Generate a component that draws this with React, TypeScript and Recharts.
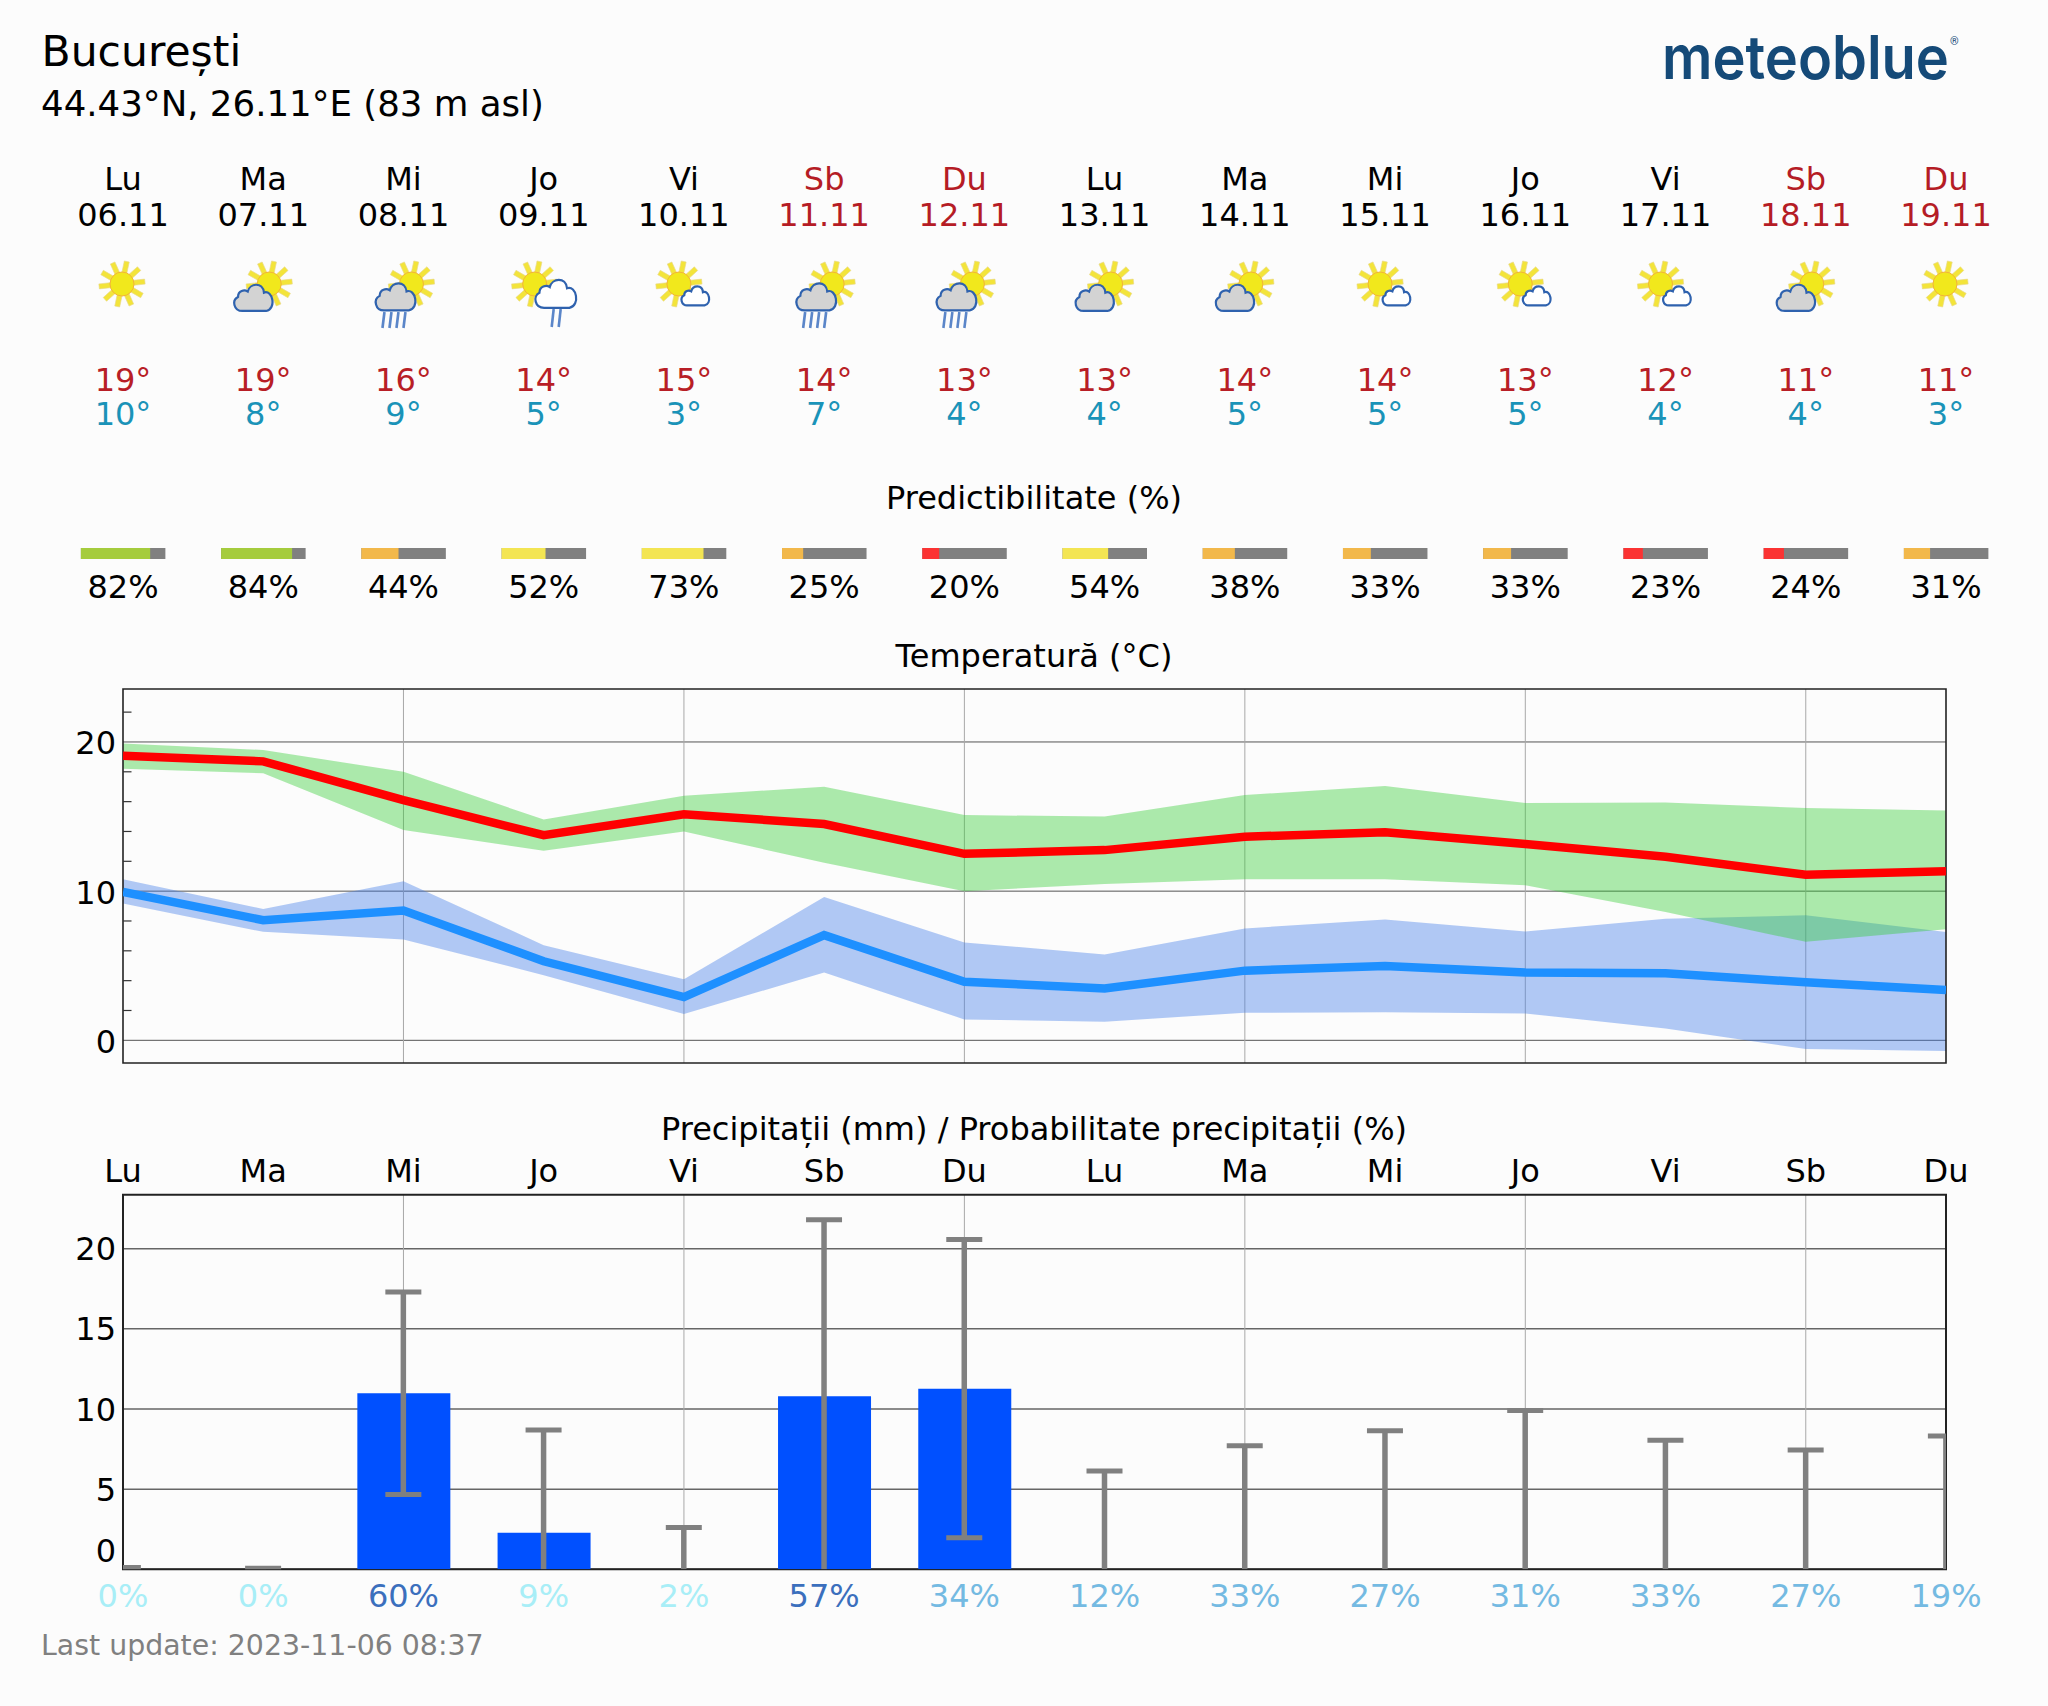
import { Area, Bar, CartesianGrid, ComposedChart, Line, ReferenceArea, XAxis, YAxis } from "recharts";

const FONT = "'DejaVu Sans', sans-serif";

const dayNames = ["Lu", "Ma", "Mi", "Jo", "Vi", "Sb", "Du", "Lu", "Ma", "Mi", "Jo", "Vi", "Sb", "Du"];
const dates = ["06.11", "07.11", "08.11", "09.11", "10.11", "11.11", "12.11", "13.11", "14.11", "15.11", "16.11", "17.11", "18.11", "19.11"];
const icons = ["sun", "cloudy", "rain", "showers", "fair", "rain", "rain", "cloudy", "cloudy", "fair", "fair", "fair", "cloudy", "sun"];
const maxLabels = [19, 19, 16, 14, 15, 14, 13, 13, 14, 14, 13, 12, 11, 11];
const minLabels = [10, 8, 9, 5, 3, 7, 4, 4, 5, 5, 5, 4, 4, 3];
const predictability = [82, 84, 44, 52, 73, 25, 20, 54, 38, 33, 33, 23, 24, 31];

const tempHigh = [19.07, 18.7, 16.1, 13.75, 15.15, 14.5, 12.5, 12.75, 13.65, 13.94, 13.16, 12.3, 11.1, 11.33];
const tempHighUpper = [19.9, 19.46, 18.0, 14.8, 16.4, 17.0, 15.1, 15.0, 16.44, 17.05, 15.9, 15.95, 15.57, 15.4];
const tempHighLower = [18.2, 17.9, 14.1, 12.7, 14.0, 11.9, 10.0, 10.48, 10.8, 10.8, 10.4, 8.6, 6.6, 7.44];
const tempLow = [9.95, 8.05, 8.7, 5.3, 2.9, 7.05, 3.93, 3.48, 4.67, 4.98, 4.55, 4.49, 3.89, 3.37];
const tempLowUpper = [10.8, 8.8, 10.67, 6.38, 4.1, 9.6, 6.56, 5.76, 7.5, 8.1, 7.3, 8.15, 8.38, 7.26];
const tempLowLower = [9.17, 7.27, 6.76, 4.37, 1.76, 4.55, 1.4, 1.25, 1.85, 1.88, 1.8, 0.8, -0.58, -0.71];

const rain = [0, 0, 10.98, 2.28, 0, 10.79, 11.27, 0, 0, 0, 0, 0, 0, 0];
const rainUpper = [0.12, 0.07, 17.3, 8.69, 2.6, 21.8, 20.58, 6.13, 7.71, 8.65, 9.9, 8.05, 7.44, 8.31];
const rainLower = [0, 0, 4.67, 0, 0, 0, 1.97, 0, 0, 0, 0, 0, 0, 0];
const rainProbability = [0, 0, 60, 9, 2, 57, 34, 12, 33, 27, 31, 33, 27, 19];

const dayTicks = dayNames.map((_, i) => i);
const tempTicks = [0, 2, 4, 6, 8, 10, 12, 14, 16, 18, 20, 22];
const tempGrid = [0, 10, 20];
const rainTicks = [0, 5, 10, 15, 20];
const gridDays = [2, 4, 6, 8, 10, 12];

const tempDomain = [-1.52, 23.55];
const rainDomain = [0, 23.37];

const headerData = dayNames.map((day, i) => ({ i, day, predictability: predictability[i] }));
const tempData = dayNames.map((_, i) => ({
  i,
  high: tempHigh[i],
  low: tempLow[i],
  highBand: [tempHighLower[i], tempHighUpper[i]],
  lowBand: [tempLowLower[i], tempLowUpper[i]],
}));
const rainData = dayNames.map((_, i) => ({
  i,
  rain: rain[i],
  range: [rainLower[i], rainUpper[i]],
}));

const LEFT = 123;
const RIGHT = 102;

const predColor = (p: number) => {
  if (p >= 80) return "#a5cc3d";
  if (p >= 50) return "#f3e553";
  if (p >= 25) return "#f2b84b";
  return "#fb3333";
};

const probColor = (p: number) => {
  if (p < 10) return "#a8eef7";
  if (p >= 50) return "#3b6fbd";
  return "#74bae2";
};

const CLOUD = "M-11 12C-19 12-21 2-15-1C-15-7-9-8-6-6C-4-14 8-15 9-5C17-8 21 10 11 12Z";

function Sun({ dx }: { dx: number }) {
  const rays = [0, 36, 72, 108, 144, 180, 216, 252, 288, 324];
  return (
    <g transform={`translate(${dx} 0)`}>
      {rays.map((r) => (
        <rect key={r} x={-2.5} y={-23} width={5} height={13} fill="#f3e43a" stroke="#e8d98a" strokeWidth={0.6} transform={`rotate(${r + 12})`} />
      ))}
      <ellipse rx={12} ry={12} fill="#f1e81c" stroke="#f3b33a" strokeWidth={1} />
    </g>
  );
}

function Cloud({ dx, dy, s, fill }: { dx: number; dy: number; s: number; fill: string }) {
  return <path d={CLOUD} transform={`translate(${dx} ${dy}) scale(${s})`} fill={fill} stroke="#2f62ae" strokeWidth={2.2 / s} />;
}

function Drops({ xs, y1, y2 }: { xs: number[]; y1: number; y2: number }) {
  return (
    <g>
      {xs.map((x) => (
        <line key={x} x1={x + 1} y1={y1} x2={x - 1} y2={y2} stroke="#5b86c9" strokeWidth={2.6} />
      ))}
    </g>
  );
}

function WeatherIcon({ kind, x }: { kind: string; x: number }) {
  return (
    <g transform={`translate(${x} 284)`}>
      {kind === "sun" && <Sun dx={-1} />}
      {kind === "cloudy" && (
        <>
          <Sun dx={6} />
          <Cloud dx={-9} dy={14} s={1.08} fill="#d3d3d3" />
        </>
      )}
      {kind === "rain" && (
        <>
          <Sun dx={8} />
          <Cloud dx={-7} dy={13} s={1.12} fill="#d3d3d3" />
          <Drops xs={[-20, -13, -6, 1]} y1={28} y2={44} />
        </>
      )}
      {kind === "showers" && (
        <>
          <Sun dx={-9} />
          <Cloud dx={13} dy={10} s={1.15} fill="#ffffff" />
          <Drops xs={[9, 16]} y1={25} y2={43} />
        </>
      )}
      {kind === "fair" && (
        <>
          <Sun dx={-5} />
          <Cloud dx={12} dy={12} s={0.78} fill="#ffffff" />
        </>
      )}
    </g>
  );
}

function HeaderTick({ x, payload }: any) {
  const i = payload.value;
  const weekend = dayNames[i] === "Sb" || dayNames[i] === "Du";
  const color = weekend ? "#b51c25" : "#000000";
  return (
    <g fontFamily={FONT} fontSize={32} textAnchor="middle">
      <text x={x} y={190} fill={color}>{dayNames[i]}</text>
      <text x={x} y={226} fill={color}>{dates[i]}</text>
      <WeatherIcon kind={icons[i]} x={x} />
      <text x={x} y={390.5} fill="#b81e26">{maxLabels[i]}°</text>
      <text x={x} y={424.5} fill="#1a93b8">{minLabels[i]}°</text>
      <text x={x} y={598} fill="#000000">{predictability[i]}%</text>
    </g>
  );
}

function PredictabilityBar({ x, width, background, payload }: any) {
  const h = background?.height ?? 11;
  const y = background?.y ?? 548;
  return (
    <g>
      <rect x={x} y={y} width={width} height={h} fill="#808080" />
      <rect x={x} y={y} width={(width * payload.predictability) / 100} height={h} fill={predColor(payload.predictability)} />
    </g>
  );
}

function TempTick({ x, y, payload }: any) {
  const major = payload.value % 10 === 0;
  if (!major) return <line x1={x + 7} x2={x + 15.5} y1={y} y2={y} stroke="#333333" strokeWidth={1.2} />;
  return (
    <text x={x} y={y + 1} dy="0.36em" textAnchor="end" fontFamily={FONT} fontSize={32} fill="#000000">
      {payload.value}
    </text>
  );
}

function RainTick({ x, y, payload }: any) {
  return (
    <text x={x} y={payload.value === 0 ? y - 19 : y} dy="0.36em" textAnchor="end" fontFamily={FONT} fontSize={32} fill="#000000">
      {payload.value}
    </text>
  );
}

function RainDayTick({ x, payload }: any) {
  return (
    <text x={x} y={32} textAnchor="middle" fontFamily={FONT} fontSize={32} fill="#000000">
      {dayNames[payload.value]}
    </text>
  );
}

function RainProbTick({ x, payload }: any) {
  const p = rainProbability[payload.value];
  return (
    <text x={x} y={456.5} textAnchor="middle" fontFamily={FONT} fontSize={32} fill={probColor(p)}>
      {p}%
    </text>
  );
}

function Whisker({ x, y, width, height, payload }: any) {
  const cx = x + width / 2;
  return (
    <g stroke="#808080" strokeWidth={5}>
      <line x1={cx} x2={cx} y1={y} y2={y + height} strokeWidth={5.5} />
      <line x1={x} x2={x + width} y1={y} y2={y} />
      {payload.range[0] > 0 && <line x1={x} x2={x + width} y1={y + height} y2={y + height} />}
    </g>
  );
}

function Label({ children, x, y, size = 32, color = "#000000", anchor = "start" }: any) {
  return (
    <text x={x} y={y} fontFamily={FONT} fontSize={size} fill={color} textAnchor={anchor}>
      {children}
    </text>
  );
}

export default function App() {
  return (
    <div style={{ position: "absolute", left: 0, top: 0, width: 2048, height: 1706, background: "#fcfcfc", overflow: "hidden" }}>
      <svg width={2048} height={1706} style={{ position: "absolute", left: 0, top: 0 }}>
        <Label x={41.5} y={66} size={42.5}>București</Label>
        <Label x={41} y={116} size={35.6}>44.43°N, 26.11°E (83 m asl)</Label>
        <text x={1662} y={78.7} fontFamily="Inter, sans-serif" fontWeight={600} fontSize={60} fill="#154a78" textLength={287} lengthAdjust="spacingAndGlyphs">
          meteoblue
        </text>
        <text x={1950} y={45} fontFamily="Roboto, sans-serif" fontSize={11} fill="#154a78">®</text>
        <Label x={1034} y={509} anchor="middle">Predictibilitate (%)</Label>
        <Label x={1034} y={667} anchor="middle">Temperatură (°C)</Label>
        <Label x={1034} y={1139.5} anchor="middle">Precipitații (mm) / Probabilitate precipitații (%)</Label>
        <Label x={41} y={1655} size={28.4} color="#808080">Last update: 2023-11-06 08:37</Label>
      </svg>

      <div style={{ position: "absolute", left: 0, top: 0 }}>
        <ComposedChart width={2048} height={620} data={headerData} margin={{ top: 540, right: RIGHT, bottom: 61, left: LEFT }}>
          <XAxis dataKey="i" type="number" orientation="top" domain={[0, 13]} ticks={dayTicks} interval={0} height={8} axisLine={false} tickLine={false} tick={HeaderTick} />
          <YAxis hide domain={[0, 100]} />
          <Bar dataKey="predictability" barSize={84.5} shape={PredictabilityBar} isAnimationActive={false} />
        </ComposedChart>
      </div>

      <div style={{ position: "absolute", left: 0, top: 680 }}>
        <ComposedChart width={2048} height={393} data={tempData} margin={{ top: 9, right: RIGHT, bottom: 10, left: 0 }}>
          <CartesianGrid stroke="#555555" vertical={false} horizontalValues={tempGrid} />
          <CartesianGrid stroke="#a8a8a8" horizontal={false} verticalValues={gridDays} />
          <XAxis dataKey="i" type="number" hide domain={[0, 13]} allowDataOverflow />
          <YAxis width={LEFT} type="number" domain={tempDomain} ticks={tempTicks} interval={0} axisLine={false} tickLine={false} tickSize={0} tickMargin={7} tick={TempTick} allowDataOverflow />
          <Area dataKey="lowBand" type="linear" fill="#3e7ae8" fillOpacity={0.4} stroke="none" dot={false} activeDot={false} isAnimationActive={false} />
          <Area dataKey="highBand" type="linear" fill="#32cd32" fillOpacity={0.4} stroke="none" dot={false} activeDot={false} isAnimationActive={false} />
          <Line dataKey="high" type="linear" stroke="#ff0000" strokeWidth={8.5} strokeLinejoin="miter" dot={false} activeDot={false} isAnimationActive={false} />
          <Line dataKey="low" type="linear" stroke="#1e90ff" strokeWidth={8.5} strokeLinejoin="miter" dot={false} activeDot={false} isAnimationActive={false} />
          <ReferenceArea x1={0} x2={13} y1={tempDomain[0]} y2={tempDomain[1]} fill="none" stroke="#222222" strokeWidth={1.6} />
        </ComposedChart>
      </div>

      <div style={{ position: "absolute", left: 0, top: 1150 }}>
        <ComposedChart width={2048} height={480} data={rainData} margin={{ top: 4.7, right: RIGHT, bottom: 10.7, left: 0 }}>
          <CartesianGrid xAxisId="days" stroke="#666666" strokeWidth={1.5} vertical={false} horizontalValues={rainTicks} />
          <CartesianGrid xAxisId="days" stroke="#a8a8a8" horizontal={false} verticalValues={gridDays} />
          <XAxis xAxisId="days" dataKey="i" type="number" orientation="top" domain={[0, 13]} ticks={dayTicks} interval={0} height={40} axisLine={false} tickLine={false} tick={RainDayTick} allowDataOverflow />
          <XAxis xAxisId="probs" dataKey="i" type="number" orientation="bottom" domain={[0, 13]} ticks={dayTicks} interval={0} height={50} axisLine={false} tickLine={false} tick={RainProbTick} allowDataOverflow />
          <YAxis width={LEFT} type="number" domain={rainDomain} ticks={rainTicks} interval={0} axisLine={false} tickLine={false} tickSize={0} tickMargin={7} tick={RainTick} allowDataOverflow />
          <Bar xAxisId="days" dataKey="rain" barSize={93} fill="#0050ff" isAnimationActive={false} />
          <Bar xAxisId="probs" dataKey="range" barSize={36} shape={Whisker} isAnimationActive={false} />
          <ReferenceArea xAxisId="days" x1={0} x2={13} y1={rainDomain[0]} y2={rainDomain[1]} fill="none" stroke="#222222" strokeWidth={2} />
        </ComposedChart>
      </div>
    </div>
  );
}
